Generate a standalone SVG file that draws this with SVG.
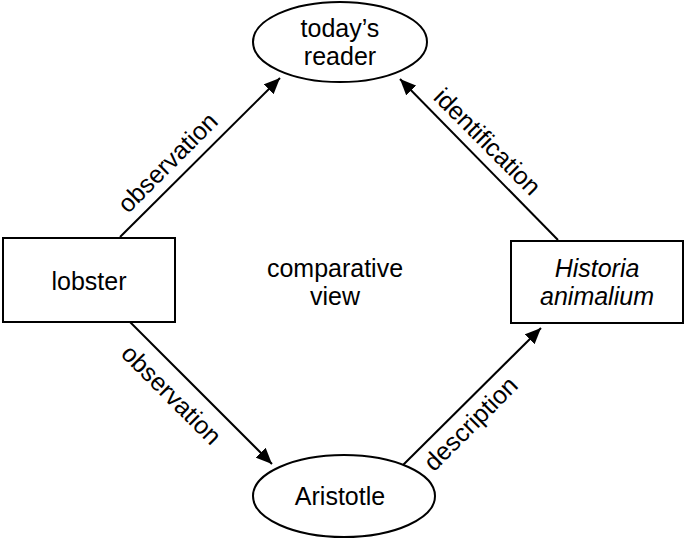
<svg xmlns="http://www.w3.org/2000/svg" width="685" height="540" viewBox="0 0 685 540">
<style>
.n{fill:#fff;stroke:#000;stroke-width:2}
.t{font-family:"Liberation Sans",Arial,sans-serif;font-size:25px;fill:#000;text-anchor:middle}
.c{stroke:#000;stroke-width:2;fill:none;marker-end:url(#ah)}
</style>
<defs>
<marker id="ah" markerUnits="userSpaceOnUse" markerWidth="16" markerHeight="14" viewBox="0 0 16 14" refX="16" refY="7" orient="auto">
<path d="M0,0 L16,7 L0,14 Z" fill="#000"/>
</marker>
</defs>
<rect width="685" height="540" fill="#fff"/>
<g id="connectors">
<line class="c" x1="120" y1="237" x2="280" y2="78"/>
<line class="c" x1="558" y1="240" x2="400" y2="79"/>
<line class="c" x1="130" y1="322" x2="272" y2="464"/>
<line class="c" x1="401" y1="467" x2="541" y2="328"/>
<text class="t" transform="translate(168,163) rotate(-45)" y="8">observation</text>
<text class="t" transform="translate(487,142) rotate(45)" y="8">identification</text>
<text class="t" transform="translate(171,395) rotate(45)" y="8">observation</text>
<text class="t" transform="translate(471,424) rotate(-45)" y="8">description</text>
</g>
<g id="reader">
<ellipse class="n" cx="340" cy="42" rx="87" ry="40"/>
<text class="t" x="340" y="37">today’s</text>
<text class="t" x="340" y="65">reader</text>
</g>
<g id="lobster">
<rect class="n" x="3" y="238" width="172" height="84"/>
<text class="t" x="89" y="290">lobster</text>
</g>
<g id="historia">
<rect class="n" x="511" y="241" width="172" height="82"/>
<text class="t" x="597" y="277" font-style="italic">Historia</text>
<text class="t" x="597" y="305" font-style="italic">animalium</text>
</g>
<g id="aristotle">
<ellipse class="n" cx="344" cy="496" rx="91" ry="41"/>
<text class="t" x="340" y="505">Aristotle</text>
</g>
<g id="comparative">
<text class="t" x="335" y="277">comparative</text>
<text class="t" x="335" y="305">view</text>
</g>
</svg>
